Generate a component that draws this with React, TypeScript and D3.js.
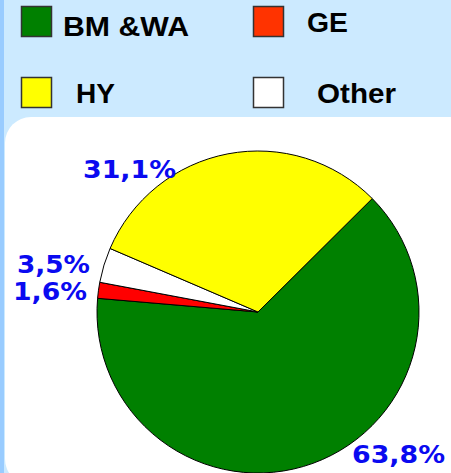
import React from "react";
import * as d3 from "d3";

// ---- data ----
const sliceNames = ["BM &WA", "GE", "Other", "HY"];
const sliceValues = [63.8, 1.6, 3.5, 31.1];
const sliceLabels = ["63,8%", "1,6%", "3,5%", "31,1%"];
const sliceColors = ["#008000", "#ff0000", "#ffffff", "#ffff00"];

const legendNames = ["BM &WA", "GE", "HY", "Other"];
const legendColors = ["#008000", "#ff3300", "#ffff00", "#ffffff"];

// ---- layout ----
const W = 451;
const H = 473;
const cx = 258;
const cy = 312;
const R = 161;
const startDeg = 45.2;

// label anchors (left x, baseline y, width)
const labelLayout = [
  { x: 352, y: 463, w: 93 },
  { x: 13, y: 300, w: 74 },
  { x: 17, y: 273, w: 73 },
  { x: 83, y: 178, w: 93 },
];

const legendLayout = [
  { bx: 21, by: 6, tx: 63, ty: 36, tw: 126 },
  { bx: 253, by: 6, tx: 307, ty: 32, tw: 41 },
  { bx: 21, by: 77, tx: 76, ty: 103, tw: 39 },
  { bx: 253, by: 77, tx: 317, ty: 103, tw: 79 },
];

export default function App() {
  const pie = d3
    .pie<number>()
    .sort(null)
    .value((d) => d)
    .startAngle((startDeg * Math.PI) / 180)
    .endAngle((startDeg * Math.PI) / 180 + 2 * Math.PI);
  const arcs = pie(sliceValues);
  const arcGen = d3.arc<d3.PieArcDatum<number>>().innerRadius(0).outerRadius(R);

  return (
    <svg
      width={W}
      height={H}
      style={{ position: "fixed", left: 0, top: 0, display: "block" }}
    >
      <rect x={0} y={0} width={W} height={H} fill="#cceaff" />
      <rect x={0} y={0} width={4} height={H} fill="#99ccff" />
      <rect x={5} y={117} width={W + 40} height={H - 117 + 12} rx={26} ry={26} fill="#ffffff" />

      {legendNames.map((n, i) => {
        const l = legendLayout[i];
        return (
          <g key={n}>
            <rect
              x={l.bx + 0.5}
              y={l.by + 0.5}
              width={30}
              height={30}
              fill={legendColors[i]}
              stroke="#333333"
              strokeWidth={1.5}
            />
            <text
              x={l.tx}
              y={l.ty}
              fontFamily="'Liberation Sans', Arial, sans-serif"
              fontWeight="bold"
              fontSize={28}
              fill="#000000"
              textLength={l.tw}
              lengthAdjust="spacingAndGlyphs"
            >
              {n}
            </text>
          </g>
        );
      })}

      <g transform={`translate(${cx},${cy})`}>
        {arcs.map((a, i) => (
          <path
            key={sliceNames[i]}
            d={arcGen(a) || ""}
            fill={sliceColors[i]}
            stroke="#000000"
            strokeWidth={1}
            strokeLinejoin="round"
          />
        ))}
      </g>

      {sliceLabels.map((t, i) => {
        const l = labelLayout[i];
        return (
          <text
            key={t}
            x={l.x}
            y={l.y}
            fontFamily="'DejaVu Sans', Verdana, sans-serif"
            fontWeight="bold"
            fontSize={25}
            fill="#0a0af0"
            textLength={l.w}
            lengthAdjust="spacingAndGlyphs"
          >
            {t}
          </text>
        );
      })}
    </svg>
  );
}
